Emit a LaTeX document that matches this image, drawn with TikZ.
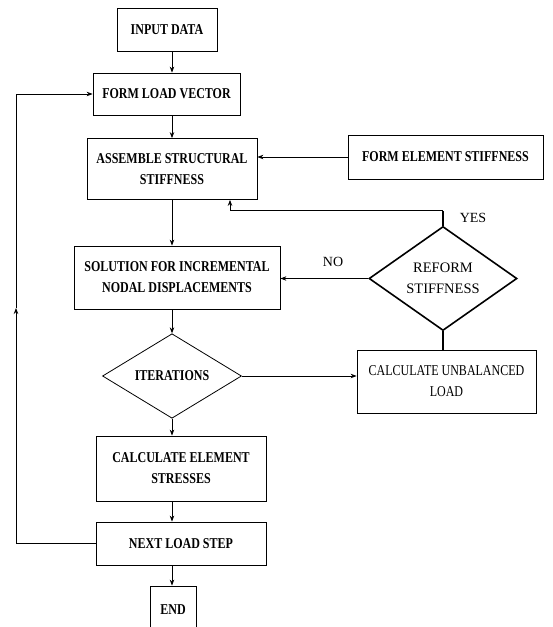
\documentclass[tikz,border=0pt]{standalone}
\usepackage{fontspec}
\setmainfont{Liberation Serif}
\newfontfamily\boxfont[FakeStretch=0.8]{Liberation Serif}
\usetikzlibrary{shapes.geometric,arrows.meta,calc}
\tikzset{
  box/.style={draw, line width=0.8pt, rectangle, inner sep=0pt, align=center,
    font=\boxfont\bfseries\fontsize{15}{21}\selectfont},
  dia/.style={draw, diamond, inner sep=0pt, align=center},
  ln/.style={line width=0.8pt},
  arr/.style={ln, -{Stealth[length=6pt,width=4.5pt]}},
  thk/.style={line width=1.6pt},
  lab/.style={font=\fontsize{14}{16}\selectfont}
}
\begin{document}
\begin{tikzpicture}[x=1pt,y=-1pt]
\useasboundingbox (0,0) rectangle (552,627);
\fill[white] (0,0) rectangle (552,627);
\coordinate (spine) at (172,0);
\coordinate (yesx) at (230,0);
\coordinate (loopx) at (16,0);

\node[box, minimum width=100pt, minimum height=43pt] (input) at (167,29.5) {INPUT DATA};
\node[box, minimum width=147pt, minimum height=42pt] (flv) at (166.5,94) {FORM LOAD VECTOR};
\node[box, minimum width=170pt, minimum height=61pt] (asm) at (172,169) {ASSEMBLE STRUCTURAL\\STIFFNESS};
\node[box, minimum width=195pt, minimum height=44pt] (fes) at (445.5,157) {FORM ELEMENT STIFFNESS};
\node[box, minimum width=206pt, minimum height=63pt] (sol) at (177,277.5) {SOLUTION FOR INCREMENTAL\\NODAL DISPLACEMENTS};
\node[dia, thk, minimum width=148pt, minimum height=83pt,
  font=\fontsize{14.5}{21}\selectfont] (ref) at (443,278.5) {REFORM\\STIFFNESS};
\node[box, minimum width=179pt, minimum height=63pt,
  font=\boxfont\fontsize{15}{21}\selectfont] (cub) at (446.5,381.5) {CALCULATE UNBALANCED\\LOAD};
\node[dia, ln, minimum width=139pt, minimum height=62pt,
  font=\boxfont\bfseries\fontsize{15}{21}\selectfont] (iter) at (172,376) {ITERATIONS};
\node[box, minimum width=170pt, minimum height=65pt] (ces) at (181,468.5) {CALCULATE ELEMENT\\STRESSES};
\node[box, minimum width=170pt, minimum height=43pt] (nls) at (181,543.5) {NEXT LOAD STEP};
\node[box, minimum width=46pt, minimum height=48pt] (end) at (173,610) {END};

% main spine
\draw[arr] (input.south -| spine) -- (flv.north -| spine);
\draw[arr] (flv.south -| spine) -- (asm.north -| spine);
\draw[arr] (asm.south -| spine) -- (sol.north -| spine);
\draw[arr] (sol.south -| spine) -- (iter.north);
\draw[arr] (iter.south) -- (ces.north -| iter.south);
\draw[arr] (ces.south -| spine) -- (nls.north -| spine);
\draw[arr] (nls.south -| spine) -- (end.north -| spine);

% side connections
\draw[arr] (fes.west) -- (fes.west -| asm.east);
\draw[arr] (ref.west) -- (ref.west -| sol.east);
\draw[thk] (ref.south) -- (ref.south |- cub.north);
\draw[arr] (iter.east) -- (iter.east -| cub.west);
\coordinate (yesc) at ($(ref.north)+(0,-15)$);
\draw[thk] (ref.north) -- (yesc);
\draw[arr] (yesc) -- (yesc -| yesx) -- (asm.south -| yesx);

% loop back
\coordinate (lm) at (16,308);
\draw[arr] (nls.west) -- (nls.west -| loopx) -- (lm);
\draw[arr] (lm) -- (loopx |- flv.west) -- (flv.west);

% labels
\node[lab] (yes) at (473,218) {YES};
\node[lab] (no) at (333,262) {NO};
\end{tikzpicture}
\end{document}
